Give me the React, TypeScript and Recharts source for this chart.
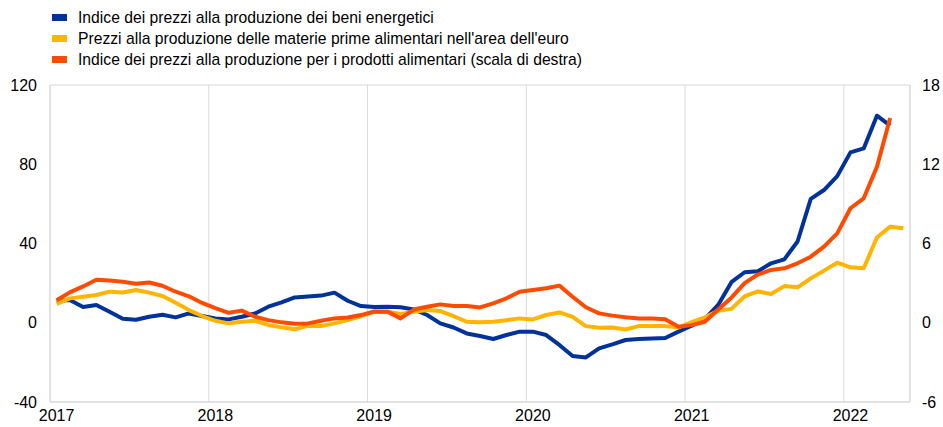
import React from 'react';
import { LineChart, Line, XAxis, YAxis, CartesianGrid, Legend } from 'recharts';

// Monthly data, Jan 2017 onwards
const energyPpi = [
  11, 11.5, 8, 9, 5.5, 2, 1.5, 3, 4, 2.7, 4.7, 3.4,
  2.2, 1.7, 3.0, 4.7, 8.1, 10.3, 12.8, 13.2, 13.7, 15.2, 11.1, 8.4,
  7.9, 8.1, 7.8, 6.7, 3.9, -0.3, -2.4, -5.4, -6.7, -8.2, -6.2, -4.5,
  -4.5, -6.2, -11.2, -16.8, -17.5, -12.9, -10.9, -8.7, -8.2, -7.9, -7.7, -4.5,
  -1.5, 2, 9, 20.5, 25.5, 26, 30, 32, 41, 62.5, 67, 74,
  86, 88, 104.5, 99.5,
];

const foodCommodities = [
  9.5, 12.3, 13.1, 14, 15.7, 15.3, 16.5, 15.2, 13.5, 10.1, 6.4, 3.4,
  1.0, -0.3, 0.5, 1.0, -1.1, -2.3, -3.3, -1.6, -1.6, -0.3, 1.3, 3.3,
  5.5, 5.6, 4.4, 5.6, 6.4, 5.9, 3.3, 0.5, 0.2, 0.5, 1.3, 2.2,
  1.7, 3.9, 5.2, 3.0, -1.7, -2.5, -2.4, -3.4, -1.7, -1.7, -1.7, -2.4,
  0.3, 2.7, 6, 7, 13.3, 15.8, 14.5, 18.5, 17.9, 22.4, 26.3, 30.3,
  28, 27.5, 43, 48.5, 47.7,
];

const foodPpi = [
  1.7, 2.3, 2.75, 3.25, 3.2, 3.1, 2.95, 3.05, 2.8, 2.35, 2.0, 1.5,
  1.1, 0.75, 0.92, 0.45, 0.2, 0.03, -0.08, -0.05, 0.15, 0.33, 0.4, 0.58,
  0.85, 0.84, 0.33, 1.0, 1.21, 1.39, 1.26, 1.26, 1.16, 1.47, 1.85, 2.35,
  2.48, 2.61, 2.81, 1.97, 1.17, 0.71, 0.54, 0.41, 0.33, 0.33, 0.26, -0.3,
  -0.18, 0.08, 1.0, 1.9, 3.0, 3.65, 4.0, 4.12, 4.5, 5.0, 5.76, 6.77,
  8.67, 9.42, 11.8, 15.5,
];

const yearLabels = ['2017', '2018', '2019', '2020', '2021', '2022'];
const yearTicks = [0, 12, 24, 36, 48, 60];
const leftTicks = [-40, 0, 40, 80, 120];
const rightTicks = [-6, 0, 6, 12, 18];

const seriesNames = [
  'Indice dei prezzi alla produzione dei beni energetici',
  "Prezzi alla produzione delle materie prime alimentari nell'area dell'euro",
  'Indice dei prezzi alla produzione per i prodotti alimentari (scala di destra)',
];
const seriesColors = ['#003299', '#FFB400', '#FF4B00'];

const data = foodCommodities.map((_, i) => ({
  m: i + 0.5,
  energy: i < energyPpi.length ? energyPpi[i] : null,
  commodities: foodCommodities[i],
  ppi: i < foodPpi.length ? foodPpi[i] : null,
}));

const FONT = '"Liberation Sans", Arial, sans-serif';

const LegendContent = () => (
  <div style={{ position: 'relative', height: 85, width: 943, fontFamily: FONT }}>
    {seriesNames.map((name, i) => (
      <div key={name} style={{ position: 'absolute', left: 0, top: 7 + i * 21, height: 21, width: 900 }}>
        <div style={{ position: 'absolute', left: 52, top: 7, width: 15, height: 7, background: seriesColors[i] }} />
        <div style={{ position: 'absolute', left: 78, top: 0, fontSize: 15.7, lineHeight: '21px', color: '#000', whiteSpace: 'nowrap' }}>
          {name}
        </div>
      </div>
    ))}
  </div>
);

const YearTick = (props: any) => {
  const { x, y, payload } = props;
  const idx = yearTicks.indexOf(payload.value);
  return (
    <text x={x + 6.6} y={y} dy="0.71em" textAnchor="middle" fontSize={16} fontFamily={FONT} fill="#000">
      {idx >= 0 ? yearLabels[idx] : ''}
    </text>
  );
};

export default function App() {
  return (
    <div style={{ position: 'absolute', left: 0, top: 0, width: 943, height: 427, background: '#fff' }}>
      <LineChart width={943} height={427} data={data} margin={{ top: 0, right: 0, bottom: 0, left: 0 }}>
        <CartesianGrid stroke="#d9d9d9" strokeWidth={1} />
        <Legend
          verticalAlign="top"
          align="left"
          layout="horizontal"
          content={<LegendContent />}
          wrapperStyle={{ top: 0, left: 0 }}
        />
        <XAxis
          dataKey="m"
          type="number"
          domain={[0, 65]}
          ticks={yearTicks}
          allowDataOverflow
          height={25}
          tickLine={false}
          axisLine={{ stroke: '#d9d9d9' }}
          tick={<YearTick />}
          interval={0}
        />
        <YAxis
          yAxisId="left"
          domain={[-40, 120]}
          ticks={leftTicks}
          width={50}
          tickLine={false}
          tickSize={6}
          tickMargin={7}
          axisLine={{ stroke: '#d9d9d9' }}
          tick={{ fontSize: 16, fontFamily: FONT, fill: '#000' }}
          interval={0}
        />
        <YAxis
          yAxisId="right"
          orientation="right"
          domain={[-6, 18]}
          ticks={rightTicks}
          width={33}
          tickLine={false}
          tickSize={6}
          tickMargin={6}
          axisLine={{ stroke: '#d9d9d9' }}
          tick={{ fontSize: 16, fontFamily: FONT, fill: '#000', textAnchor: 'start' }}
          interval={0}
        />
        <Line yAxisId="left" dataKey="energy" stroke={seriesColors[0]} strokeWidth={4} dot={false} isAnimationActive={false} strokeLinejoin="round" />
        <Line yAxisId="left" dataKey="commodities" stroke={seriesColors[1]} strokeWidth={4} dot={false} isAnimationActive={false} strokeLinejoin="round" />
        <Line yAxisId="right" dataKey="ppi" stroke={seriesColors[2]} strokeWidth={4} dot={false} isAnimationActive={false} strokeLinejoin="round" />
      </LineChart>
    </div>
  );
}
